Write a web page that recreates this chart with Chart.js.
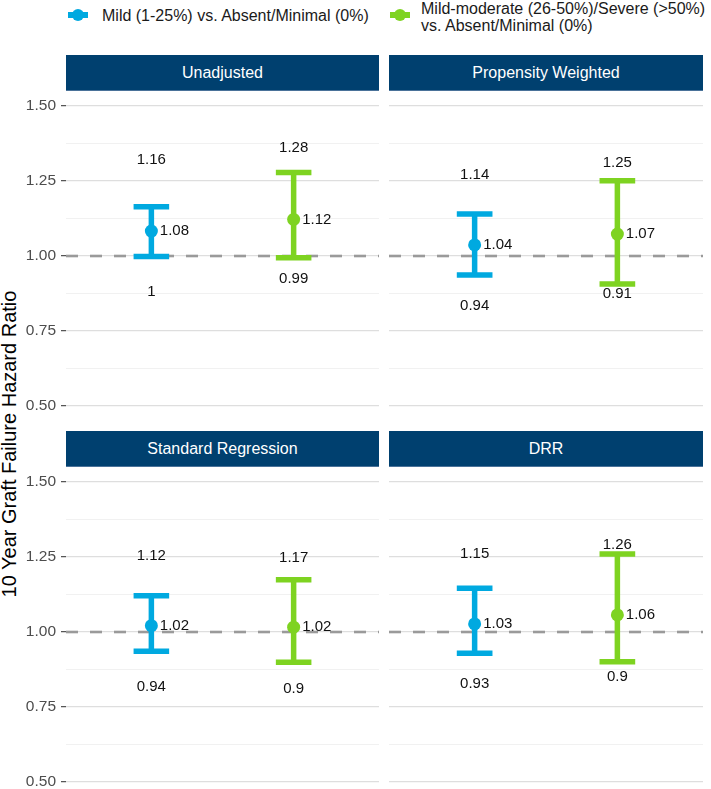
<!DOCTYPE html>
<html><head><meta charset="utf-8">
<script src="https://cdn.jsdelivr.net/npm/chart.js@4.4.1/dist/chart.umd.min.js"></script>
<style>
html,body{margin:0;padding:0;background:#fff;width:711px;height:789px;overflow:hidden;font-family:'Liberation Sans',Arial,Helvetica,sans-serif;}
#root{position:relative;width:711px;height:789px;overflow:hidden;}
.strip{position:absolute;background:#00406f;color:#fff;font-size:16px;display:flex;align-items:center;justify-content:center;box-sizing:border-box;border-bottom:1px solid #4a7299;}
canvas{position:absolute;}
.ytitle{position:absolute;font-size:20px;color:#000;white-space:nowrap;text-align:center;width:420px;height:24px;line-height:24px;transform:rotate(-90deg);}
.leg{position:absolute;font-size:16px;color:#1a1a1a;line-height:17px;white-space:nowrap;}
.icon{position:absolute;width:20px;height:12px;}
.icon .bar{position:absolute;left:0;top:3px;width:20px;height:6px;}
.icon .dot{position:absolute;left:4px;top:0;width:12px;height:12px;border-radius:50%;}
</style></head><body><div id="root"></div>
<script>
// ---------------- data ----------------
const panelTitles = ['Unadjusted', 'Propensity Weighted', 'Standard Regression', 'DRR'];
const seriesNames = ['Mild (1-25%) vs. Absent/Minimal (0%)', 'Mild-moderate (26-50%)/Severe (>50%)|vs. Absent/Minimal (0%)'];
const mildHR    = [1.083, 1.037, 1.021, 1.027];
const mildLower = [0.998, 0.937, 0.936, 0.929];
const mildUpper = [1.164, 1.140, 1.121, 1.146];
const sevHR     = [1.122, 1.073, 1.016, 1.057];
const sevLower  = [0.994, 0.907, 0.899, 0.901];
const sevUpper  = [1.278, 1.251, 1.174, 1.260];
const yTickLabels = [0.5, 0.75, 1.0, 1.25, 1.5];
const referenceHR = 1;
const yTitle = '10 Year Graft Failure Hazard Ratio';

// ---------------- style / layout ----------------
const FONT = "'Liberation Sans', Arial, Helvetica, sans-serif";
const COLORS = ['#00a9e0', '#7ed321'];
// label repel offsets (value units) for [panel][series]
const upperNudge = [[0.156, 0.081], [0.130, 0.060], [0.133, 0.073], [0.116, 0.032]];
const lowerNudge = [[0.118, 0.071], [0.104, 0.034], [0.118, 0.087], [0.103, 0.050]];
const panelBoxes = [
  {left: 0,   top: 91,  width: 379, height: 330, axis: true,  stripLeft: 66,  stripTop: 55,  stripW: 313},
  {left: 389, top: 91,  width: 314, height: 330, axis: false, stripLeft: 389, stripTop: 55,  stripW: 314},
  {left: 0,   top: 467, width: 379, height: 330, axis: true,  stripLeft: 66,  stripTop: 431, stripW: 313},
  {left: 389, top: 467, width: 314, height: 330, axis: false, stripLeft: 389, stripTop: 431, stripW: 314}
];

const series = [
  {hr: mildHR, lo: mildLower, hi: mildUpper},
  {hr: sevHR,  lo: sevLower,  hi: sevUpper}
];
const gridValues = [];
yTickLabels.forEach((v, i) => {
  gridValues.push(v);
  if (i < yTickLabels.length - 1) gridValues.push((v + yTickLabels[i + 1]) / 2);
});
const isMajor = v => yTickLabels.some(t => Math.abs(t - v) < 1e-9);
const fmt = v => String(Number(v.toFixed(2)));

const root = document.getElementById('root');

// legend
const legendPos = [{icon: 68, text: 102, top: 7}, {icon: 390, text: 421, top: 0}];
seriesNames.forEach((name, i) => {
  const ic = document.createElement('div');
  ic.className = 'icon';
  ic.style.left = legendPos[i].icon + 'px';
  ic.style.top = '9px';
  ic.innerHTML = `<div class="bar" style="background:${COLORS[i]}"></div><div class="dot" style="background:${COLORS[i]}"></div>`;
  root.appendChild(ic);
  const t = document.createElement('div');
  t.className = 'leg';
  t.style.left = legendPos[i].text + 'px';
  t.style.top = legendPos[i].top + 'px';
  t.innerHTML = name.split('|').join('<br>');
  root.appendChild(t);
});

// y title
const yt = document.createElement('div');
yt.className = 'ytitle';
yt.textContent = yTitle;
yt.style.left = (9 - 210) + 'px';
yt.style.top = (444 - 12) + 'px';
root.appendChild(yt);

const errPlugin = p => ({
  id: 'errbars' + p,
  beforeDatasetsDraw(chart) {
    const {ctx, chartArea: a, scales: {x, y}} = chart;
    ctx.save();
    const yr = y.getPixelForValue(referenceHR);
    ctx.strokeStyle = '#9a9a9a';
    ctx.lineWidth = 2.6;
    ctx.setLineDash([12, 12]);
    ctx.beginPath(); ctx.moveTo(a.left, yr); ctx.lineTo(a.right, yr); ctx.stroke();
    ctx.setLineDash([]);
    series.forEach((s, i) => {
      const xc = x.getPixelForValue(i + 1);
      const xl = x.getPixelForValue(i + 1 - 0.125);
      const xr = x.getPixelForValue(i + 1 + 0.125);
      const yl = y.getPixelForValue(s.lo[p]);
      const yh = y.getPixelForValue(s.hi[p]);
      ctx.strokeStyle = COLORS[i];
      ctx.lineWidth = 5.5;
      ctx.lineCap = 'butt';
      ctx.beginPath();
      ctx.moveTo(xc, yl); ctx.lineTo(xc, yh);
      ctx.moveTo(xl, yl); ctx.lineTo(xr, yl);
      ctx.moveTo(xl, yh); ctx.lineTo(xr, yh);
      ctx.stroke();
    });
    ctx.restore();
  },
  afterDatasetsDraw(chart) {
    const {ctx, scales: {x, y}} = chart;
    ctx.save();
    ctx.fillStyle = '#111';
    ctx.font = '15px ' + FONT;
    ctx.textBaseline = 'middle';
    series.forEach((s, i) => {
      const xc = x.getPixelForValue(i + 1);
      ctx.textAlign = 'left';
      ctx.fillText(fmt(s.hr[p]), xc + 8.5, y.getPixelForValue(s.hr[p]));
      ctx.textAlign = 'center';
      ctx.fillText(fmt(s.hi[p]), xc, y.getPixelForValue(s.hi[p] + upperNudge[p][i]));
      ctx.fillText(fmt(s.lo[p]), xc, y.getPixelForValue(s.lo[p] - lowerNudge[p][i]));
    });
    ctx.restore();
  }
});

panelBoxes.forEach((b, p) => {
  const st = document.createElement('div');
  st.className = 'strip';
  st.style.left = b.stripLeft + 'px';
  st.style.top = b.stripTop + 'px';
  st.style.width = b.stripW + 'px';
  st.style.height = '36px';
  st.textContent = panelTitles[p];
  root.appendChild(st);

  const cv = document.createElement('canvas');
  cv.width = b.width; cv.height = b.height;
  cv.style.left = b.left + 'px'; cv.style.top = b.top + 'px';
  cv.style.width = b.width + 'px'; cv.style.height = b.height + 'px';
  root.appendChild(cv);

  new Chart(cv, {
    type: 'scatter',
    data: {
      datasets: series.map((s, i) => ({
        label: seriesNames[i],
        data: [{x: i + 1, y: s.hr[p]}],
        backgroundColor: COLORS[i],
        borderColor: COLORS[i],
        borderWidth: 0,
        pointRadius: 6.5,
        pointHoverRadius: 6.5
      }))
    },
    options: {
      responsive: false,
      animation: false,
      devicePixelRatio: 1,
      events: [],
      layout: {padding: 0, autoPadding: false},
      plugins: {legend: {display: false}, tooltip: {enabled: false}},
      scales: {
        x: {type: 'linear', min: 0.4, max: 2.6, display: false},
        y: {
          type: 'linear', min: 0.45, max: 1.55, position: 'left',
          afterBuildTicks: s => { s.ticks = gridValues.map(v => ({value: v})); },
          afterFit: s => { s.width = b.axis ? 66 : 0; s.paddingTop = 0; s.paddingBottom = 0; },
          border: {display: false},
          ticks: {
            display: b.axis, autoSkip: false, padding: 5, color: '#4d4d4d',
            font: {size: 15.5, family: FONT},
            callback: v => isMajor(v) ? v.toFixed(2) : ''
          },
          grid: {
            drawTicks: b.axis, tickLength: 5, tickWidth: 1.2,
            tickColor: c => isMajor(c.tick.value) ? '#4d4d4d' : 'rgba(0,0,0,0)',
            color: c => isMajor(c.tick.value) ? '#dedede' : '#f1f1f1',
            lineWidth: c => isMajor(c.tick.value) ? 1.3 : 1
          }
        }
      }
    },
    plugins: [errPlugin(p)]
  });
});
</script></body></html>
